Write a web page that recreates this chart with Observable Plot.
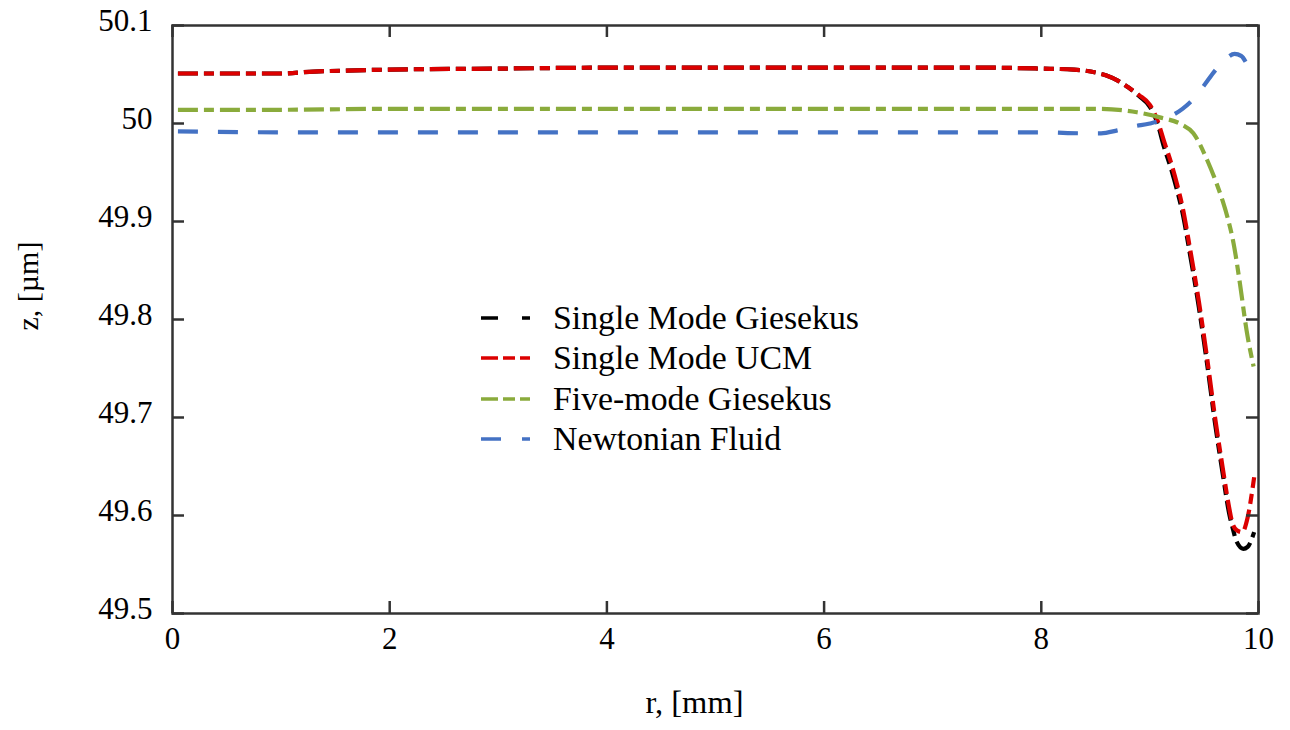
<!DOCTYPE html>
<html>
<head>
<meta charset="utf-8">
<script src="https://cdn.jsdelivr.net/npm/d3@7"></script>
<script src="https://cdn.jsdelivr.net/npm/@observablehq/plot@0.6"></script>
<style>
  html, body { margin: 0; padding: 0; background: #fff; }
  #wrap { position: relative; width: 1290px; height: 730px; font-family: "Liberation Serif", "Times New Roman", serif; }
  #legend { position: absolute; left: 481px; top: 298px; }
  .row { display: flex; align-items: center; height: 40.3px; }
  .row span { margin-left: 23px; font-size: 33.8px; line-height: 40px; color: #000; white-space: nowrap; }
</style>
</head>
<body>
<div id="wrap"><div id="legend"></div></div>
<script>
// ---- data ----
const seriesNames = ["Single Mode Giesekus", "Single Mode UCM", "Five-mode Giesekus", "Newtonian Fluid"];
const seriesColors = ["#000000", "#dc0000", "#8aab3c", "#4472c4"];
const seriesDash = ["20,6,10,6", "20,6,10,6", "20,6,10,6", "20,20"];
const legendDash = ["17,24,8", "17,5,12,5,10", "17,5,12,5,10", "20,21,9"];

const rGiesekus = [0.05, 0.5, 1.0, 1.3, 1.6, 2.0, 3.0, 4.0, 5.0, 6.0, 7.0, 7.5, 8.0, 8.3, 8.5, 8.6, 8.7, 8.8, 8.9, 9.0, 9.07, 9.13, 9.2, 9.25, 9.3, 9.37, 9.45, 9.53, 9.6, 9.67, 9.73, 9.76, 9.8, 9.86, 9.9, 9.96];
const zGiesekus = [50.051, 50.051, 50.051, 50.053, 50.054, 50.055, 50.056, 50.057, 50.057, 50.057, 50.057, 50.057, 50.056, 50.055, 50.052, 50.049, 50.044, 50.037, 50.028, 50.017, 50.000, 49.976, 49.952, 49.932, 49.909, 49.866, 49.813, 49.752, 49.694, 49.643, 49.602, 49.588, 49.573, 49.566, 49.568, 49.583];

const rUCM = [0.05, 0.5, 1.0, 1.3, 1.6, 2.0, 3.0, 4.0, 5.0, 6.0, 7.0, 7.5, 8.0, 8.3, 8.5, 8.6, 8.7, 8.8, 8.9, 9.0, 9.07, 9.13, 9.2, 9.25, 9.3, 9.37, 9.45, 9.53, 9.6, 9.67, 9.73, 9.76, 9.8, 9.85, 9.9, 9.96];
const zUCM = [50.051, 50.051, 50.051, 50.053, 50.054, 50.055, 50.056, 50.057, 50.057, 50.057, 50.057, 50.057, 50.056, 50.055, 50.052, 50.049, 50.044, 50.037, 50.029, 50.019, 50.003, 49.982, 49.958, 49.938, 49.915, 49.872, 49.819, 49.758, 49.700, 49.649, 49.608, 49.592, 49.585, 49.583, 49.598, 49.639];

const rFive = [0.05, 1, 2, 3, 4, 5, 6, 7, 8, 8.5, 8.88, 9.1, 9.28, 9.4, 9.53, 9.62, 9.67, 9.72, 9.77, 9.83, 9.89, 9.955];
const zFive = [50.014, 50.014, 50.015, 50.015, 50.015, 50.015, 50.015, 50.015, 50.015, 50.015, 50.0115, 50.006, 49.9997, 49.990, 49.962, 49.937, 49.921, 49.902, 49.878, 49.836, 49.789, 49.752];

const rNewton = [0.05, 1, 2, 3, 4, 5, 6, 7, 8, 8.4, 8.55, 8.7, 8.85, 9.0, 9.1, 9.2, 9.3, 9.4, 9.5, 9.6, 9.7, 9.78, 9.84, 9.9];
const zNewton = [49.992, 49.991, 49.991, 49.991, 49.991, 49.991, 49.991, 49.991, 49.991, 49.990, 49.990, 49.993, 49.997, 50.000, 50.003, 50.008, 50.015, 50.025, 50.039, 50.054, 50.066, 50.071, 50.069, 50.059];

const xTicks = [0, 2, 4, 6, 8, 10];
const yTicks = [49.5, 49.6, 49.7, 49.8, 49.9, 50.0, 50.1];
const xTitle = "r, [mm]";
const yTitle = "z, [µm]";

// ---- build ----
const allR = [rGiesekus, rUCM, rFive, rNewton];
const allZ = [zGiesekus, zUCM, zFive, zNewton];
const fmtY = d => String(+d.toFixed(1));
const frameColor = "#333333";

const W = 1290, H = 730, ML = 172, MR = 32, MT = 25, MB = 117;
const plotW = W - ML - MR, plotH = H - MT - MB, TICK = 12;
const xDom = [0, 10], yDom = [49.5, 50.1];
// tick length converted to data units via the scale extents
const tickDX = (xDom[1] - xDom[0]) * TICK / plotW;
const tickDY = (yDom[1] - yDom[0]) * TICK / plotH;

const lineMarks = seriesNames.map((name, i) => {
  const rows = allR[i].map((r, j) => ({r, z: allZ[i][j], series: name}));
  return Plot.line(rows, {
    x: "r", y: "z", stroke: seriesColors[i], strokeWidth: 4.2,
    strokeDasharray: seriesDash[i], curve: "monotone-x", strokeLinecap: "butt"
  });
});

const tickStyle = {stroke: frameColor, strokeWidth: 2.5};

const chart = Plot.plot({
  width: W,
  height: H,
  marginLeft: ML,
  marginRight: MR,
  marginTop: MT,
  marginBottom: MB,
  style: {fontFamily: "Liberation Serif, Times New Roman, serif", fontSize: "31px", color: "#000", background: "#fff"},
  x: {domain: xDom},
  y: {domain: yDom},
  marks: [
    ...lineMarks,
    // inward ticks on all four sides
    Plot.ruleY(yTicks, {y: d => d, x1: xDom[0], x2: xDom[0] + tickDX, ...tickStyle}),
    Plot.ruleY(yTicks, {y: d => d, x1: xDom[1] - tickDX, x2: xDom[1], ...tickStyle}),
    Plot.ruleX(xTicks, {x: d => d, y1: yDom[0], y2: yDom[0] + tickDY, ...tickStyle}),
    Plot.ruleX(xTicks, {x: d => d, y1: yDom[1] - tickDY, y2: yDom[1], ...tickStyle}),
    Plot.frame({stroke: frameColor, strokeWidth: 2.5}),
    // tick labels
    Plot.axisY({ticks: yTicks, tickSize: 0, tickPadding: 20, tickFormat: fmtY, dy: -4, label: null, fontSize: 31}),
    Plot.axisX({ticks: xTicks, tickSize: 0, tickPadding: 13, tickFormat: d => String(d), label: null, fontSize: 31}),
    // axis titles
    Plot.text([xTitle], {text: d => d, frameAnchor: "bottom", dx: -21, dy: 99, fontSize: 32.5, fill: "#000"}),
    Plot.text([yTitle], {text: d => d, frameAnchor: "left", rotate: -90, dx: -144, dy: 11, fontSize: 30, fill: "#000"})
  ]
});

const wrap = document.getElementById("wrap");
wrap.insertBefore(chart, wrap.firstChild);

// ---- legend ----
const legend = d3.select("#legend");
seriesNames.forEach((name, i) => {
  const row = legend.append("div").attr("class", "row");
  const svg = row.append("svg").attr("width", 49).attr("height", 8);
  svg.append("line").attr("x1", 0).attr("x2", 49).attr("y1", 4).attr("y2", 4)
    .attr("stroke", seriesColors[i]).attr("stroke-width", 3.5)
    .attr("stroke-dasharray", legendDash[i]);
  row.append("span").text(name);
});
</script>
</body>
</html>
